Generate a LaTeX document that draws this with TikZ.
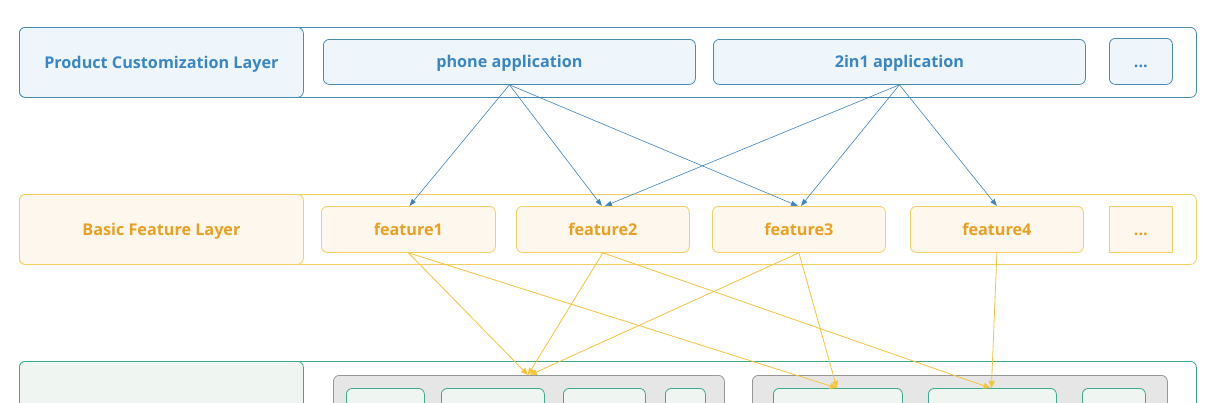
\documentclass[tikz,border=0pt]{standalone}
\usepackage{fontspec}
\setmainfont{Open Sans}
\usetikzlibrary{arrows.meta}
\definecolor{bline}{RGB}{72,140,176}
\definecolor{btext}{RGB}{58,134,196}
\definecolor{bfill}{RGB}{238,246,252}
\definecolor{barrow}{RGB}{62,132,192}
\definecolor{yline}{RGB}{243,207,96}
\definecolor{ytext}{RGB}{234,160,32}
\definecolor{yfill}{RGB}{253,247,238}
\definecolor{yarrow}{RGB}{245,196,60}
\definecolor{gline}{RGB}{60,170,140}
\definecolor{gfill}{RGB}{239,246,241}
\definecolor{grfill}{RGB}{230,230,230}
\definecolor{grline}{RGB}{150,150,150}
\tikzset{
  box/.style={anchor=north west, rounded corners=6pt, line width=0.8pt, inner sep=0pt,
    font=\fontsize{16.2}{19}\selectfont\bfseries, text height=13pt, text depth=1pt},
  bluebox/.style={box, draw=bline, fill=bfill, text=btext},
  yelbox/.style={box, draw=yline, fill=yfill, text=ytext},
  grnbox/.style={box, draw=gline, fill=gfill},
  graybox/.style={box, draw=grline, fill=grfill},
  outer/.style={box, fill=white},
  barr/.style={draw=barrow, line width=0.6pt, -{Triangle[length=7pt,width=5pt]}},
  yarr/.style={draw=yarrow, line width=0.8pt, -{Triangle[length=7pt,width=6pt]}},
}
\begin{document}
\begin{tikzpicture}[x=1pt,y=-1pt]
\useasboundingbox (0,0) rectangle (1226,402);
\clip (0,0) rectangle (1226,402);
\fill[white] (0,0) rectangle (1226,402);
% top layer
\node[outer, draw=bline, minimum width=1177pt, minimum height=70pt] (L1) at (19,27) {};
\node[bluebox, minimum width=284pt, minimum height=70pt] (L1l) at (19,27) {Product Customization Layer};
\node[bluebox, minimum width=372pt, minimum height=45pt] (phone) at (323,39) {phone application};
\node[bluebox, minimum width=372pt, minimum height=45pt] (twoin) at (713,39) {2in1 application};
\node[bluebox, minimum width=63pt, minimum height=46pt] (tdots) at (1109,38) {...};
% feature layer
\node[outer, draw=yline, minimum width=1177pt, minimum height=70pt] (L2) at (19,194) {};
\node[yelbox, minimum width=284pt, minimum height=70pt] (L2l) at (19,194) {Basic Feature Layer};
\node[yelbox, minimum width=174pt, minimum height=46pt] (f1) at (321,206) {feature1};
\node[yelbox, minimum width=173pt, minimum height=46pt] (f2) at (516,206) {feature2};
\node[yelbox, minimum width=173pt, minimum height=46pt] (f3) at (712,206) {feature3};
\node[yelbox, minimum width=173pt, minimum height=46pt] (f4) at (910,206) {feature4};
\node[yelbox, rounded corners=0pt, minimum width=63pt, minimum height=46pt] (fdots) at (1109,206) {...};
% bottom layer
\node[outer, draw=gline, minimum width=1177pt, minimum height=90pt] (L3) at (19,361) {};
\node[grnbox, minimum width=284pt, minimum height=90pt] (L3l) at (19,361) {};
\node[graybox, minimum width=391pt, minimum height=70pt] (g1) at (333,375) {};
\node[graybox, minimum width=415pt, minimum height=70pt] (g2) at (752,375) {};
\node[grnbox, minimum width=78pt, minimum height=50pt] (a1) at (346,388) {};
\node[grnbox, minimum width=103pt, minimum height=50pt] (a2) at (441,388) {};
\node[grnbox, minimum width=82pt, minimum height=50pt] (a3) at (563,388) {};
\node[grnbox, minimum width=40pt, minimum height=50pt] (a4) at (665,388) {};
\node[grnbox, minimum width=129pt, minimum height=50pt] (b1) at (773,388) {};
\node[grnbox, minimum width=128pt, minimum height=50pt] (b2) at (928,388) {};
\node[grnbox, minimum width=63pt, minimum height=50pt] (b3) at (1082,388) {};
% blue arrows
\draw[barr] (phone.south) -- ([xshift=1pt]f1.north);
\draw[barr] (phone.south) -- ([xshift=-1pt]f2.north);
\draw[barr] (phone.south) -- ([xshift=-1pt]f3.north);
\draw[barr] (twoin.south) -- ([xshift=2pt]f2.north);
\draw[barr] (twoin.south) -- ([xshift=2pt]f3.north);
\draw[barr] (twoin.south) -- (f4.north);
% yellow arrows
\draw[yarr] (f1.south) -- ([xshift=-1pt]g1.north);
\draw[yarr] (f1.south) -- ([xshift=-1pt]b1.north);
\draw[yarr] (f2.south) -- ([xshift=-1pt]g1.north);
\draw[yarr] (f2.south) -- ([xshift=-2pt]b2.north);
\draw[yarr] (f3.south) -- ([xshift=1pt]g1.north);
\draw[yarr] (f3.south) -- ([xshift=-1pt]b1.north);
\draw[yarr] (f4.south) -- ([xshift=-1pt]b2.north);
\end{tikzpicture}
\end{document}
